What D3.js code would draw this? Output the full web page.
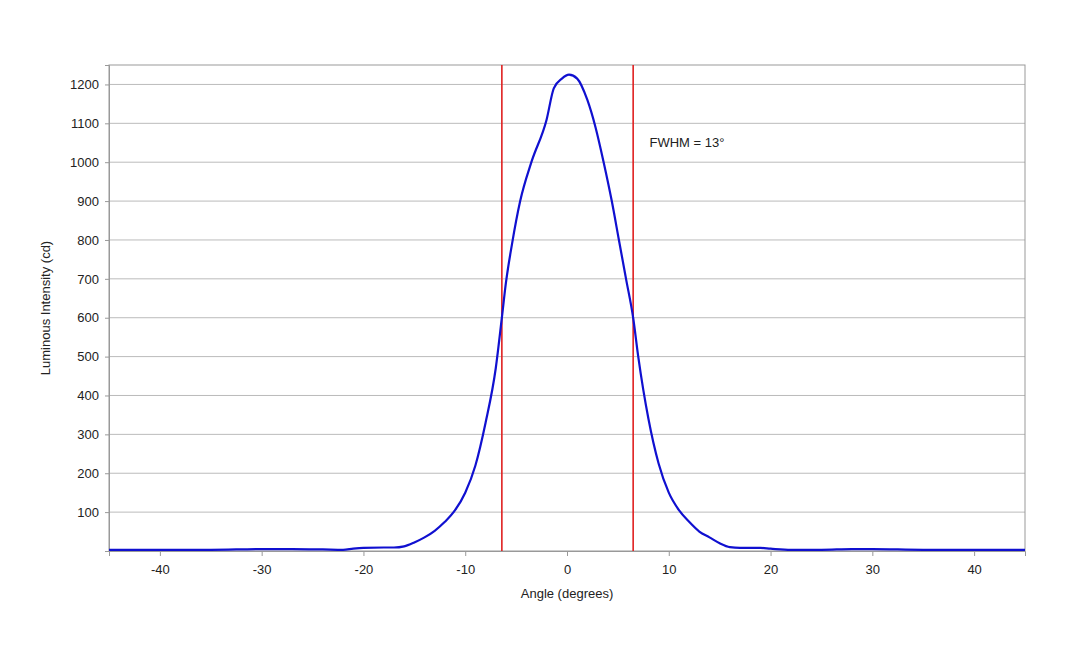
<!DOCTYPE html><html><head><meta charset="utf-8"><script src="https://d3js.org/d3.v7.min.js"></script>
<style>body{margin:0;background:#fff}text{font-family:Arial,"Liberation Sans",sans-serif}</style></head><body><svg id="c" width="1080" height="648"></svg><script>
const angles=[-45,-40,-35,-30,-27,-24,-22,-21,-20,-18,-17,-16,-15,-14,-13,-12,-11,-10,-9,-8,-7,-6.4,-6,-5.4,-4.6,-3.5,-2,-1.3,-0.5,0.2,1,2,2.8,3.6,4.4,5.1,5.8,6.5,7,8,9,10,11,12,13,14,15,16,17,19,20,22,25,28,30,35,40,45];
const intensity=[3,3,3,5,5,4,3,6,8,9,9,12,22,35,52,75,105,150,220,330,470,600,690,790,900,1000,1110,1190,1215,1225,1215,1160,1090,1000,900,800,700,600,500,340,225,150,105,75,50,35,20,10,8,8,6,3,3,5,5,3,3,3];
const yTicks=[100,200,300,400,500,600,700,800,900,1000,1100,1200];
const xTicks=[-40,-30,-20,-10,0,10,20,30,40];
const fwhm=[-6.4,6.5];
const svg=d3.select("#c");
const x=d3.scaleLinear().domain([-45,45]).range([109,1025]);
const y=d3.scaleLinear().domain([0,1250]).range([551,65]);
svg.append("g").selectAll("line").data(yTicks).join("line").attr("x1",109).attr("x2",1025).attr("y1",d=>y(d)).attr("y2",d=>y(d)).attr("stroke","#bbb");
svg.append("rect").attr("x",109).attr("y",65).attr("width",916).attr("height",486).attr("fill","none").attr("stroke","#999");
const ya=svg.append("g").attr("transform","translate(109,0)").call(d3.axisLeft(y).tickValues(yTicks).tickFormat(d=>String(d)).tickSize(4).tickPadding(6));
const xa=svg.append("g").attr("transform","translate(0,551)").call(d3.axisBottom(x).tickValues(xTicks).tickFormat(d=>String(d)).tickSize(5).tickPadding(9));
[ya,xa].forEach(a=>{a.select(".domain").attr("stroke","#999");a.selectAll("line").attr("stroke","#999");a.selectAll("text").attr("font-size",13).attr("fill","#222");});
svg.append("g").selectAll("line").data(fwhm).join("line").attr("x1",d=>x(d)).attr("x2",d=>x(d)).attr("y1",65).attr("y2",551).attr("stroke","#e02020").attr("stroke-width",1.6);
svg.append("path").datum(angles.map((a,i)=>[a,intensity[i]])).attr("fill","none").attr("stroke","#1010d0").attr("stroke-width",2.2)
 .attr("d",d3.line().x(d=>x(d[0])).y(d=>y(d[1])).curve(d3.curveMonotoneX));
svg.append("text").attr("x",x(8.1)).attr("y",y(1040)).attr("font-size",13).attr("fill","#222").text("FWHM = 13°");
svg.append("text").attr("x",567).attr("y",598).attr("text-anchor","middle").attr("font-size",13).attr("fill","#222").text("Angle (degrees)");
svg.append("text").attr("transform","translate(50,308) rotate(-90)").attr("text-anchor","middle").attr("font-size",13).attr("fill","#222").text("Luminous Intensity (cd)");
</script></body></html>
